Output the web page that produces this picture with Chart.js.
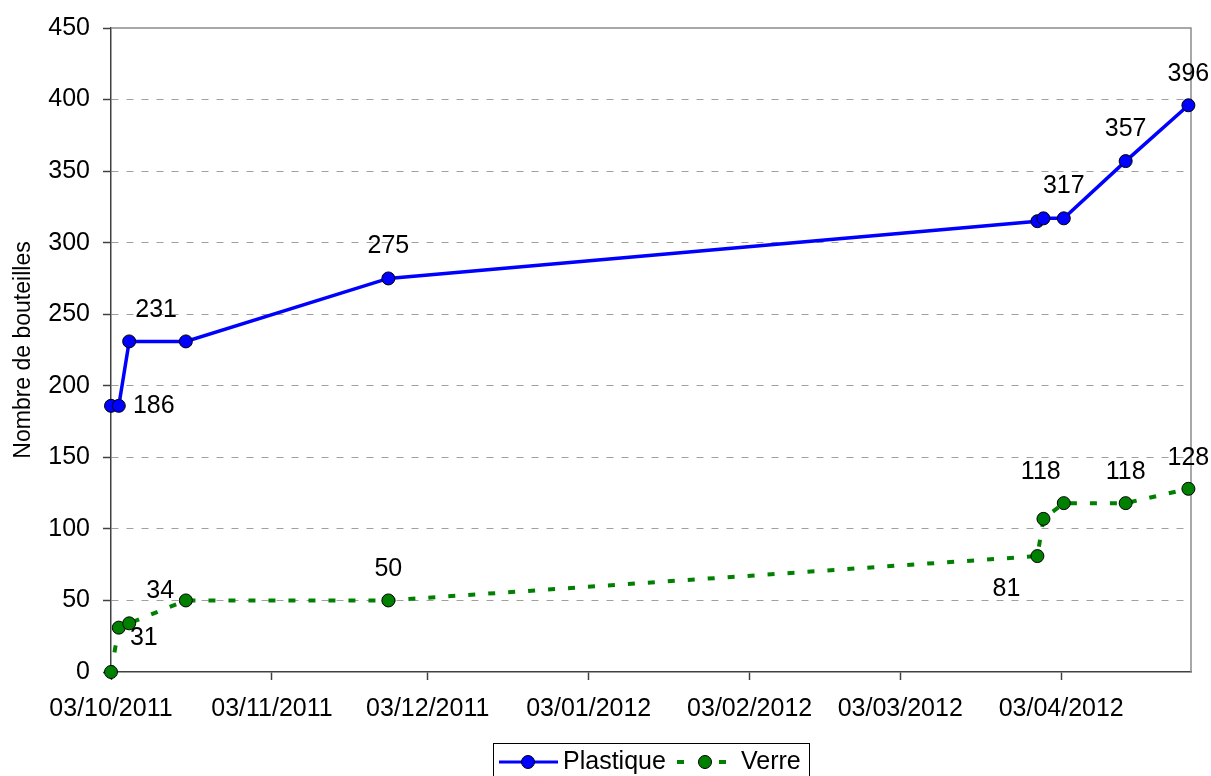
<!DOCTYPE html>
<html>
<head>
<meta charset="utf-8">
<script src="https://cdn.jsdelivr.net/npm/chart.js@4.4.1/dist/chart.umd.min.js"></script>
<style>
  body { margin: 0; background: #fff; }
  canvas { display: block; }
</style>
</head>
<body>
<canvas id="chart" width="1211" height="776"></canvas>
<script>
const dates = [
  '2011-10-03T00:00', '2011-10-04T12:00', '2011-10-06T12:00', '2011-10-17T10:00', '2011-11-25T10:00',
  '2012-03-29T10:00', '2012-03-30T14:00', '2012-04-03T12:00', '2012-04-15T10:00', '2012-04-27T12:00'
];
const plastique = [186, 186, 231, 231, 275, 315, 317, 317, 357, 396];
const verre = [0, 31, 34, 50, 50, 81, 107, 118, 118, 128];

const tickDates = ['2011-10-03', '2011-11-03', '2011-12-03', '2012-01-03', '2012-02-03', '2012-03-03', '2012-04-03'];
const axisStart = '2011-10-03';
const axisEnd = '2012-04-28';
const yMin = 0, yMax = 450, yStep = 50;
const yTitle = 'Nombre de bouteilles';

// which points carry a value label
const labelledPlastique = [1, 2, 4, 7, 8, 9];
const labelledVerre = [1, 2, 4, 5, 7, 8, 9];

// label offsets from the point (px), same order as above
const offsetsPlastique = [[35, 0], [27, -31], [0, -32], [0, -32], [0, -32], [0, -31]];
const offsetsVerre = [[25, 10], [31, -32], [0, -31], [-31, 33], [-23, -31], [0, -31], [0, -31]];

const FONT = "'Liberation Sans', Arial, sans-serif";

const toDay = s => Date.parse(s.length > 10 ? s + ':00Z' : s + 'T00:00:00Z') / 86400000;
const pad = n => (n < 10 ? '0' : '') + n;
const fmtDay = v => {
  const d = new Date(Math.round(v * 86400000));
  return pad(d.getUTCDate()) + '/' + pad(d.getUTCMonth() + 1) + '/' + d.getUTCFullYear();
};

const points = vals => vals.map((v, i) => ({ x: toDay(dates[i]), y: v }));

const valueLabels = {
  id: 'valueLabels',
  afterDatasetsDraw(chart) {
    const ctx = chart.ctx;
    const sets = [[labelledPlastique, offsetsPlastique], [labelledVerre, offsetsVerre]];
    ctx.save();
    ctx.font = '25px ' + FONT;
    ctx.fillStyle = '#000';
    ctx.textAlign = 'center';
    ctx.textBaseline = 'middle';
    sets.forEach(([idx, offs], di) => {
      const meta = chart.getDatasetMeta(di);
      const vals = chart.data.datasets[di].data;
      idx.forEach((i, k) => {
        const el = meta.data[i];
        ctx.fillText(String(vals[i].y), el.x + offs[k][0], el.y + offs[k][1]);
      });
    });
    ctx.restore();
  }
};

// grey frame on top and right of the plot area
const frame = {
  id: 'frame',
  beforeDatasetsDraw(chart) {
    const { ctx, chartArea: a } = chart;
    ctx.save();
    ctx.strokeStyle = '#8c8c8c';
    ctx.lineWidth = 1.5;
    ctx.beginPath();
    ctx.moveTo(a.left, a.top);
    ctx.lineTo(a.right, a.top);
    ctx.lineTo(a.right, a.bottom);
    ctx.stroke();
    ctx.restore();
  }
};

// boxed legend below the axis, line + marker samples
const boxLegend = {
  id: 'boxLegend',
  afterDraw(chart) {
    const ctx = chart.ctx;
    const ds = chart.data.datasets;
    const y = 762;
    ctx.save();
    ctx.strokeStyle = '#000';
    ctx.lineWidth = 1;
    ctx.strokeRect(493.5, 743.5, 316, 60);

    ctx.font = '25px ' + FONT;
    ctx.fillStyle = '#000';
    ctx.textBaseline = 'middle';

    // Plastique
    ctx.strokeStyle = ds[0].borderColor;
    ctx.lineWidth = 3;
    ctx.beginPath(); ctx.moveTo(499, y); ctx.lineTo(558, y); ctx.stroke();
    ctx.beginPath(); ctx.arc(528, y, 6.5, 0, Math.PI * 2);
    ctx.fillStyle = ds[0].pointBackgroundColor; ctx.fill();
    ctx.lineWidth = 1; ctx.strokeStyle = '#000'; ctx.stroke();
    ctx.fillStyle = '#000';
    ctx.fillText(ds[0].label, 563, y);

    // Verre
    ctx.strokeStyle = ds[1].borderColor;
    ctx.lineWidth = 4;
    ctx.setLineDash([7, 35]);
    ctx.beginPath(); ctx.moveTo(677, y); ctx.lineTo(727, y); ctx.stroke();
    ctx.setLineDash([]);
    ctx.beginPath(); ctx.arc(705, y, 6.5, 0, Math.PI * 2);
    ctx.fillStyle = ds[1].pointBackgroundColor; ctx.fill();
    ctx.lineWidth = 1; ctx.strokeStyle = '#000'; ctx.stroke();
    ctx.fillStyle = '#000';
    ctx.fillText(ds[1].label, 741, y);
    ctx.restore();
  }
};

new Chart(document.getElementById('chart'), {
  type: 'line',
  data: {
    datasets: [
      {
        label: 'Plastique',
        data: points(plastique),
        borderColor: '#0000ff',
        borderWidth: 3.5,
        pointBackgroundColor: '#0000ff',
        pointBorderColor: '#000',
        pointBorderWidth: 1,
        pointRadius: 6.5,
        tension: 0,
        clip: false
      },
      {
        label: 'Verre',
        data: points(verre),
        borderColor: '#008000',
        borderWidth: 4,
        borderDash: [7, 13],
        pointBackgroundColor: '#008000',
        pointBorderColor: '#000',
        pointBorderWidth: 1,
        pointRadius: 6.5,
        tension: 0,
        clip: false
      }
    ]
  },
  options: {
    responsive: false,
    devicePixelRatio: 1,
    animation: false,
    events: [],
    layout: { padding: { top: 27, right: 20, bottom: 54, left: 0 } },
    plugins: { legend: { display: false }, tooltip: { enabled: false } },
    scales: {
      x: {
        type: 'linear',
        min: toDay(axisStart),
        max: toDay(axisEnd),
        afterBuildTicks: axis => { axis.ticks = tickDates.map(d => ({ value: toDay(d) })); },
        afterFit: axis => { axis.height = 50; },
        grid: { drawOnChartArea: false, tickLength: 8, tickColor: '#404040', tickWidth: 1.5 },
        border: { color: '#404040', width: 1.5 },
        ticks: {
          autoSkip: false,
          maxRotation: 0,
          padding: 14,
          color: '#000',
          font: { family: FONT, size: 25 },
          callback: v => fmtDay(v)
        }
      },
      y: {
        min: yMin,
        max: yMax,
        afterFit: axis => { axis.width = 111; },
        grid: {
          color: c => (c.tick.value === yMin || c.tick.value === yMax) ? 'rgba(0,0,0,0)' : '#a0a0a0',
          lineWidth: 1,
          tickLength: 8,
          tickColor: '#404040',
          tickWidth: 1.5,
          tickBorderDash: []
        },
        border: { color: '#404040', width: 1.5, dash: [7, 8] },
        ticks: {
          stepSize: yStep,
          padding: 13,
          color: '#000',
          font: { family: FONT, size: 25 }
        },
        title: {
          display: true,
          text: yTitle,
          color: '#000',
          font: { family: FONT, size: 23, weight: 'normal' },
          padding: { top: 10, bottom: 0 }
        }
      }
    }
  },
  plugins: [frame, valueLabels, boxLegend]
});
</script>
</body>
</html>
